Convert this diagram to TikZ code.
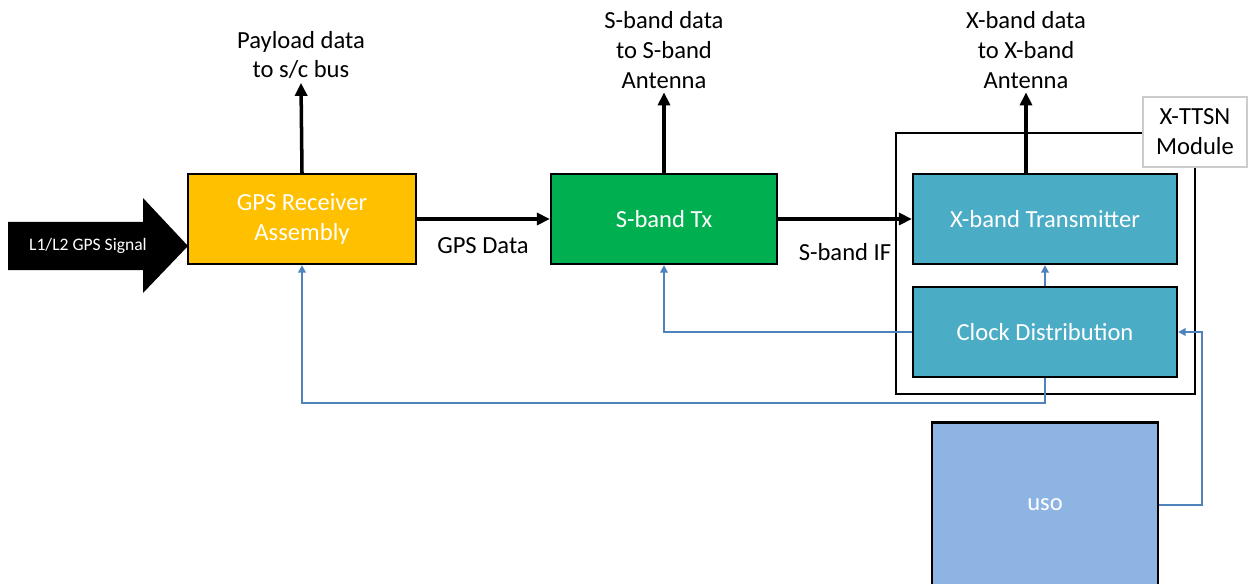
\documentclass[tikz,border=0pt]{standalone}
\usepackage{fontspec}
\setmainfont{Carlito}
\usetikzlibrary{arrows.meta}
\definecolor{gpsyellow}{HTML}{FFC000}
\definecolor{sgreen}{HTML}{00B050}
\definecolor{xteal}{HTML}{4BACC6}
\definecolor{usoblue}{HTML}{8EB4E3}
\definecolor{clkline}{HTML}{4F81BD}

\begin{document}
\begin{tikzpicture}[x=0.02cm, y=-0.02cm,
	box/.style={draw=black, line width=1.3pt, text=white, align=center,
		minimum height=1.8cm, font=\fontsize{14}{17}\selectfont},
	lbl/.style={align=center, inner sep=2pt, font=\fontsize{14}{17}\selectfont},
	link/.style={line width=2pt, -{Triangle[length=2.6mm, width=2.4mm]}},
	clk/.style={draw=clkline, line width=1.4pt, -{Triangle[length=1.5mm, width=1.5mm]}}]
\useasboundingbox (0,0) rectangle (1254,584);

% incoming signal
\fill (8,222) -- (143,222) -- (143,198) -- (188,246) -- (143,293) -- (143,270) -- (8,270) -- cycle;
\node[text=white, font=\fontsize{10}{12}\selectfont] (sig) at (88,246) {L1/L2 GPS Signal};

% module frame
\draw[line width=0.9pt] (896,133) rectangle (1195,394);

% blocks
\node[box, fill=gpsyellow, minimum width=4.56cm] (gps) at (302,219) {GPS Receiver\\Assembly};
\node[box, fill=sgreen, minimum width=4.52cm] (stx) at (664,219) {S-band Tx};
\node[box, fill=xteal, minimum width=5.28cm] (xtx) at (1045,219) {X-band Transmitter};
\node[box, fill=xteal, minimum width=5.28cm] (clock) at (1045,332) {Clock Distribution};
\node[box, fill=usoblue, minimum width=4.52cm, minimum height=3.3cm] (uso) at (1045,505) {uso};
\node[lbl, fill=white, draw=black!20, line width=0.6pt, minimum width=2.08cm, minimum height=1.4cm] (mod) at (1195,132) {X-TTSN\\Module};

% labels
\node[lbl] (pay) at (301,55) {Payload data\\to s/c bus};
\node[lbl] (sout) at (664,50) {S-band data\\to S-band\\Antenna};
\node[lbl] (xout) at (1026,50) {X-band data\\to X-band\\Antenna};
\node[lbl] (gpsd) at (483,246) {GPS Data};
\node[lbl] (sif) at (845,252) {S-band IF};

% data path
\draw[link] (gps) -- (stx);
\draw[link] (stx) -- (xtx);
\draw[link] (gps.north) -- (pay.south);
\draw[link] (stx.north) -- (sout.south);
\draw[link] (xout.south |- xtx.north) -- (xout.south);

% clock path
\draw[clk] (clock.west) -| (stx.south);
\draw[clk] (clock.south) -- ++(0,25) -| (gps.south);
\draw[clk] (clock.north) -- (xtx.south);
\draw[clk] (uso.east) -- ++(43,0) |- (clock.east);
\end{tikzpicture}
\end{document}
